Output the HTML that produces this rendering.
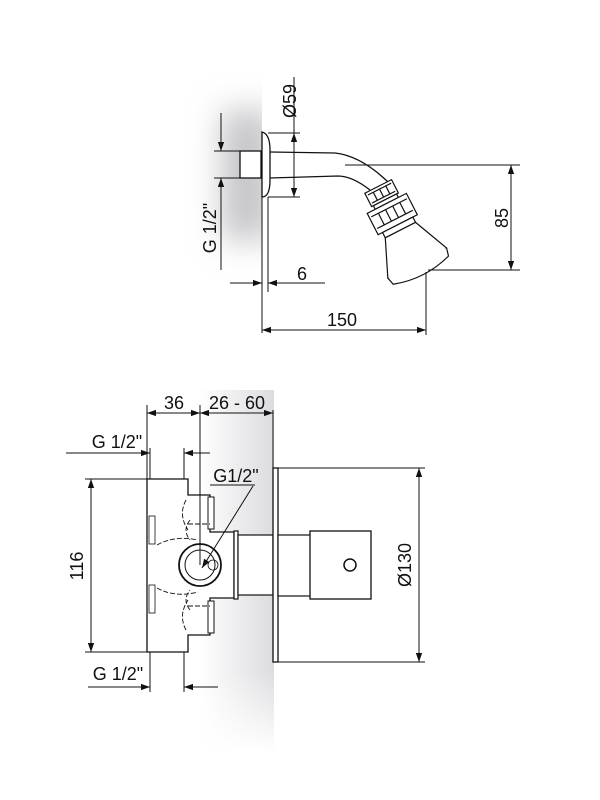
<!DOCTYPE html>
<html><head><meta charset="utf-8"><style>
html,body{margin:0;padding:0;background:#fff}
svg{display:block}
text{font-family:"Liberation Sans",sans-serif;fill:#111}
</style></head><body>
<svg width="600" height="800" viewBox="0 0 600 800" xmlns="http://www.w3.org/2000/svg">
<defs>
<filter id="bl" x="-1" y="-1" width="3" height="3"><feGaussianBlur stdDeviation="16"/></filter>
<clipPath id="cl"><rect x="150" y="60" width="112" height="260"/></clipPath>
<linearGradient id="g2" x1="0" y1="0" x2="1" y2="0">
<stop offset="0" stop-color="#fff"/><stop offset="0.5" stop-color="#ededef"/><stop offset="1" stop-color="#dcdcdf"/></linearGradient>
<linearGradient id="fv" x1="0" y1="0" x2="0" y2="1">
<stop offset="0" stop-color="#fff" stop-opacity="0"/><stop offset="1" stop-color="#fff" stop-opacity="1"/></linearGradient>
<marker id="a" viewBox="0 0 10 10" refX="10" refY="5" markerWidth="9" markerHeight="9" orient="auto-start-reverse" markerUnits="userSpaceOnUse"><path d="M0,1.5 L10,5 L0,8.5z" fill="#111"/></marker>
</defs>
<!-- shading -->
<g clip-path="url(#cl)"><rect x="222" y="110" width="50" height="130" fill="#c4c4c8" filter="url(#bl)"/></g>
<rect x="200" y="390" width="74" height="360" fill="url(#g2)"/>
<rect x="195" y="670" width="85" height="82" fill="url(#fv)"/>
<g stroke="#111" fill="none" stroke-width="1">
<!-- TOP -->
<line x1="262" y1="185" x2="262" y2="333"/>
<line x1="268" y1="197" x2="268" y2="292"/>
<path d="M262,132 Q270,134 270,150 L270,180 Q270,197 262,197 Z" fill="#fff" stroke-width="1.3"/>
<rect x="240" y="151" width="21" height="27" fill="#fff" stroke-width="1.3"/>
<path d="M270,152 L335,153 Q362,156 390,184 M270,178 L338,176 Q352,176 370,190" stroke-width="1.3"/>
<g transform="translate(380,190) rotate(-27)" stroke-width="1.2" fill="#fff">
<rect x="-15" y="-4" width="30" height="15"/>
<line x1="-13" y1="-1" x2="13" y2="-1"/><line x1="-13" y1="8" x2="13" y2="8"/>
<line x1="-7" y1="-1" x2="-7" y2="8"/><line x1="0" y1="-1" x2="0" y2="8"/><line x1="7" y1="-1" x2="7" y2="8"/>
<rect x="-13" y="11" width="26" height="4"/>
<rect x="-22" y="15" width="44" height="24"/>
<line x1="-20" y1="20" x2="20" y2="20"/><line x1="-20" y1="33" x2="20" y2="33"/>
<line x1="-12" y1="20" x2="-12" y2="33"/><line x1="-4" y1="20" x2="-4" y2="33"/><line x1="4" y1="20" x2="4" y2="33"/><line x1="12" y1="20" x2="12" y2="33"/>
<rect x="-17" y="39" width="34" height="6"/>
<path d="M-17,45 L17,45 L33,82 Q0,92 -33,82 Z"/>
<path d="M-33,82 L-31,90 Q0,100 31,90 L33,82"/>
</g>
<!-- Ø59 -->
<line x1="268" y1="133" x2="300" y2="133"/><line x1="268" y1="197" x2="300" y2="197"/>
<line x1="294" y1="77" x2="294" y2="133"/>
<line x1="294" y1="133" x2="294" y2="197" marker-start="url(#a)" marker-end="url(#a)"/>
<!-- G1/2 top -->
<line x1="214" y1="151" x2="240" y2="151"/><line x1="214" y1="178" x2="240" y2="178"/>
<line x1="221" y1="113" x2="221" y2="151" marker-end="url(#a)"/>
<line x1="221" y1="270" x2="221" y2="178" marker-end="url(#a)"/>
<!-- 6 -->
<line x1="230" y1="283" x2="262" y2="283" marker-end="url(#a)"/>
<line x1="325" y1="283" x2="268" y2="283" marker-end="url(#a)"/>
<!-- 85 -->
<line x1="345" y1="165" x2="520" y2="165"/><line x1="428" y1="270" x2="520" y2="270"/>
<line x1="511" y1="165" x2="511" y2="270" marker-start="url(#a)" marker-end="url(#a)"/>
<!-- 150 -->
<line x1="426" y1="272" x2="426" y2="335"/>
<line x1="262" y1="330" x2="426" y2="330" marker-start="url(#a)" marker-end="url(#a)"/>

<!-- BOTTOM -->
<path d="M147,479 L188,479 L188,495 L210,495 L210,532 L234,532 L234,598 L210,598 L210,635 L188,635 L188,652 L147,652 Z" fill="#fff" stroke-width="1.3"/>
<rect x="208" y="497" width="6" height="32" fill="#fff"/>
<rect x="208" y="601" width="6" height="32" fill="#fff"/>
<rect x="149" y="516" width="6" height="28" stroke-width="0.8"/>
<rect x="149" y="585" width="6" height="28" stroke-width="0.8"/>
<g stroke-dasharray="5,2" stroke-width="0.9">
<path d="M186,500 Q178,515 188,530 M190,520 Q182,530 190,540"/>
<path d="M186,630 Q178,615 188,600 M190,610 Q182,600 190,590"/>
<path d="M157,545 Q175,535 198,540 M157,588 Q175,598 198,592"/>
<line x1="188" y1="524" x2="210" y2="524"/><line x1="188" y1="606" x2="210" y2="606"/>
</g>
<circle cx="200" cy="565" r="21" stroke-width="1.8" fill="#fff"/>
<circle cx="200" cy="565" r="15"/>
<circle cx="213" cy="565" r="5" stroke-width="0.8"/>
<rect x="234" y="531" width="4" height="68" fill="#fff" stroke-width="1.2"/>
<rect x="238" y="535" width="35" height="60" fill="#fff" stroke-width="1.2"/>
<rect x="273" y="468" width="5" height="194" fill="#fff" stroke-width="1.3"/>
<rect x="278" y="535" width="33" height="61" fill="#fff" stroke-width="1.2"/>
<rect x="310" y="531" width="61" height="68" fill="#fff" stroke-width="1.3"/>
<circle cx="350" cy="565" r="6" stroke-width="1.5"/>
<!-- 36 / 26-60 -->
<line x1="147" y1="405" x2="147" y2="479"/>
<line x1="200" y1="405" x2="200" y2="565"/>
<line x1="273" y1="410" x2="273" y2="468"/>
<line x1="147" y1="413" x2="200" y2="413" marker-start="url(#a)" marker-end="url(#a)"/>
<line x1="200" y1="413" x2="273" y2="413" marker-start="url(#a)" marker-end="url(#a)"/>
<!-- G 1/2 top -->
<line x1="150" y1="448" x2="150" y2="479"/><line x1="184" y1="448" x2="184" y2="479"/>
<line x1="66" y1="453" x2="150" y2="453" marker-end="url(#a)"/>
<line x1="210" y1="453" x2="184" y2="453" marker-end="url(#a)"/>
<!-- G1/2 leader -->
<path d="M210,485 L255,485"/>
<line x1="253" y1="486" x2="202" y2="568" marker-end="url(#a)"/>
<!-- 116 -->
<line x1="85" y1="479" x2="147" y2="479"/><line x1="85" y1="652" x2="147" y2="652"/>
<line x1="91" y1="479" x2="91" y2="652" marker-start="url(#a)" marker-end="url(#a)"/>
<!-- Ø130 -->
<line x1="278" y1="468" x2="425" y2="468"/><line x1="278" y1="662" x2="425" y2="662"/>
<line x1="419" y1="468" x2="419" y2="662" marker-start="url(#a)" marker-end="url(#a)"/>
<!-- G 1/2 bottom -->
<line x1="150" y1="652" x2="150" y2="692"/><line x1="184" y1="652" x2="184" y2="692"/>
<line x1="88" y1="687" x2="150" y2="687" marker-end="url(#a)"/>
<line x1="218" y1="687" x2="184" y2="687" marker-end="url(#a)"/>
</g>
<g font-size="18">
<text x="291" y="101" transform="rotate(-90 291 101)" text-anchor="middle" dominant-baseline="middle">Ø59</text>
<text x="211" y="228" transform="rotate(-90 211 228)" text-anchor="middle" dominant-baseline="middle">G 1/2"</text>
<text x="302" y="280" text-anchor="middle">6</text>
<text x="503" y="218" transform="rotate(-90 503 218)" text-anchor="middle" dominant-baseline="middle">85</text>
<text x="342" y="326" text-anchor="middle">150</text>
<text x="174" y="409" text-anchor="middle">36</text>
<text x="237" y="409" text-anchor="middle">26 - 60</text>
<text x="117" y="448" text-anchor="middle">G 1/2"</text>
<text x="236" y="482" text-anchor="middle">G1/2"</text>
<text x="78" y="566" transform="rotate(-90 78 566)" text-anchor="middle" dominant-baseline="middle">116</text>
<text x="406" y="565" transform="rotate(-90 406 565)" text-anchor="middle" dominant-baseline="middle">Ø130</text>
<text x="118" y="680" text-anchor="middle">G 1/2"</text>
</g>
</svg>
</body></html>
